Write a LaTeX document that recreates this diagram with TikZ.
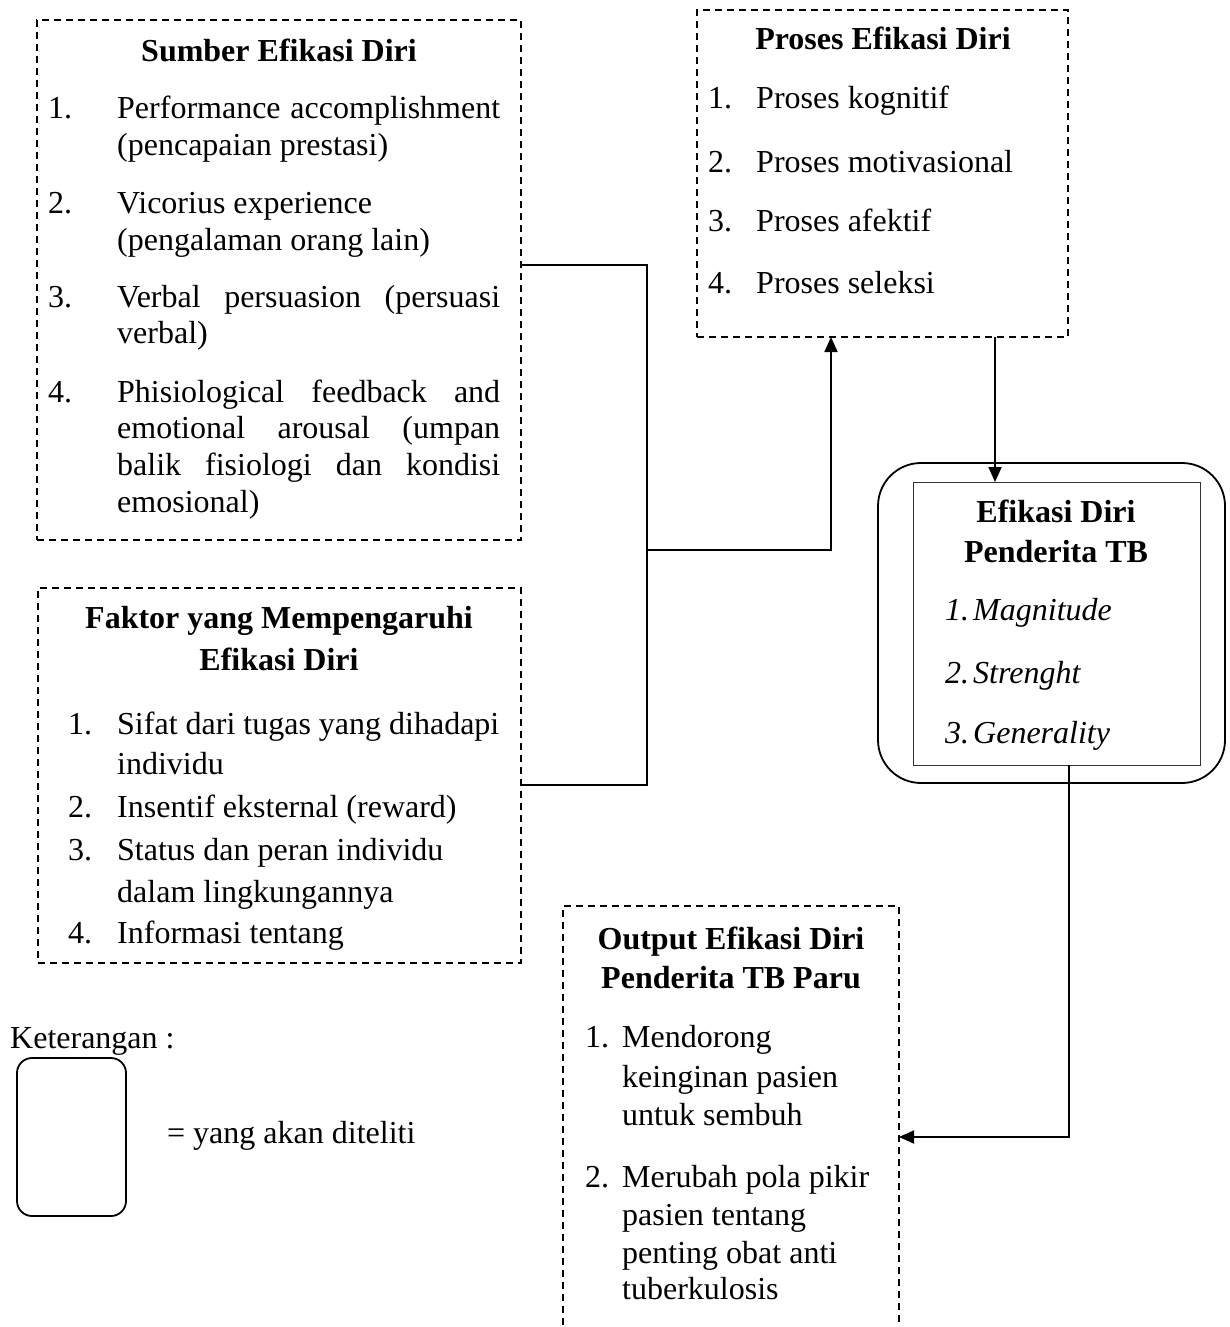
\documentclass[tikz,border=0pt]{standalone}
\usepackage{fontspec}
\setmainfont{Liberation Serif}
\usetikzlibrary{arrows.meta}
\begin{document}
\begin{tikzpicture}[x=1pt,y=-1pt,
  dbox/.style={draw, dash pattern=on 7pt off 5pt, line width=1.4pt, inner sep=0pt, outer sep=0pt, anchor=north west},
  rbox/.style={draw, line width=1.8pt, inner sep=0pt, outer sep=0pt, anchor=north west},
  ibox/.style={draw, line width=1pt, inner sep=0pt, outer sep=0pt, anchor=north west, draw=black!80},
  conn/.style={line width=1.8pt},
  tip/.style={-{Triangle[length=15pt,width=13pt]}},
  txt/.style={inner sep=0pt, anchor=base west, font=\fontsize{32}{36}\selectfont},
  ttl/.style={inner sep=0pt, anchor=base, font=\fontsize{32}{36}\selectfont\bfseries},
  itx/.style={inner sep=0pt, anchor=base west, font=\fontsize{32}{36}\selectfont\itshape}]
\useasboundingbox (0,0) rectangle (1230,1327);

% boxes
\node[dbox, minimum width=484pt, minimum height=520pt] (sumber) at (37,20) {};
\node[dbox, minimum width=483pt, minimum height=375pt] (faktor) at (38,588) {};
\node[dbox, minimum width=371pt, minimum height=327pt] (proses) at (697,10) {};
\node[rbox, rounded corners=43pt, minimum width=347pt, minimum height=320pt] (outer) at (878,463) {};
\node[ibox, minimum width=287pt, minimum height=283pt] (inner) at (913,482) {};
\begin{scope}
\clip (0,0) rectangle (1230,1327);
\node[dbox, minimum width=336pt, minimum height=440pt] (output) at (563,906) {};
\end{scope}
\node[rbox, rounded corners=15pt, minimum width=109pt, minimum height=158pt] (legend) at (17,1058) {};

% Sumber text
\node[ttl] (s0) at (279,62) {Sumber Efikasi Diri};
\node[txt] (s1n) at (48,118) {1.};
\node[txt] (s1a) at (117,118) {\makebox[383pt][s]{Performance accomplishment}};
\node[txt] (s1b) at (117,155) {(pencapaian prestasi)};
\node[txt] (s2n) at (48,213) {2.};
\node[txt] (s2a) at (117,213) {Vicorius experience};
\node[txt] (s2b) at (117,250) {(pengalaman orang lain)};
\node[txt] (s3n) at (48,307) {3.};
\node[txt] (s3a) at (117,307) {\makebox[383pt][s]{Verbal persuasion (persuasi}};
\node[txt] (s3b) at (117,343) {verbal)};
\node[txt] (s4n) at (48,402) {4.};
\node[txt] (s4a) at (117,402) {\makebox[383pt][s]{Phisiological feedback and}};
\node[txt] (s4b) at (117,438) {\makebox[383pt][s]{emotional arousal (umpan}};
\node[txt] (s4c) at (117,475) {\makebox[383pt][s]{balik fisiologi dan kondisi}};
\node[txt] (s4d) at (117,512) {emosional)};

% Faktor text
\node[ttl] (f0a) at (279,628) {Faktor yang Mempengaruhi};
\node[ttl] (f0b) at (279,670) {Efikasi Diri};
\node[txt] (f1n) at (68,734) {1.};
\node[txt] (f1a) at (117,734) {Sifat dari tugas yang dihadapi};
\node[txt] (f1b) at (117,774) {individu};
\node[txt] (f2n) at (68,817) {2.};
\node[txt] (f2a) at (117,817) {Insentif eksternal (reward)};
\node[txt] (f3n) at (68,860) {3.};
\node[txt] (f3a) at (117,860) {Status dan peran individu};
\node[txt] (f3b) at (117,902) {dalam lingkungannya};
\node[txt] (f4n) at (68,943) {4.};
\node[txt] (f4a) at (117,943) {Informasi tentang};

% Proses text
\node[ttl] (p0) at (883,50) {Proses Efikasi Diri};
\node[txt] (p1n) at (708,109) {1.};
\node[txt] (p1a) at (756,109) {Proses kognitif};
\node[txt] (p2n) at (708,172) {2.};
\node[txt] (p2a) at (756,172) {Proses motivasional};
\node[txt] (p3n) at (708,231) {3.};
\node[txt] (p3a) at (756,231) {Proses afektif};
\node[txt] (p4n) at (708,293) {4.};
\node[txt] (p4a) at (756,293) {Proses seleksi};

% Efikasi text
\node[ttl] (e0a) at (1056,522) {Efikasi Diri};
\node[ttl] (e0b) at (1056,562) {Penderita TB};
\node[itx] (e1n) at (945,620) {1.};
\node[itx] (e1a) at (973,620) {Magnitude};
\node[itx] (e2n) at (945,683) {2.};
\node[itx] (e2a) at (973,683) {Strenght};
\node[itx] (e3n) at (945,743) {3.};
\node[itx] (e3a) at (973,743) {Generality};

% Output text
\node[ttl] (o0a) at (731,949) {Output Efikasi Diri};
\node[ttl] (o0b) at (731,988) {Penderita TB Paru};
\node[txt] (o1n) at (585,1047) {1.};
\node[txt] (o1a) at (622,1047) {Mendorong};
\node[txt] (o1b) at (622,1087) {keinginan pasien};
\node[txt] (o1c) at (622,1125) {untuk sembuh};
\node[txt] (o2n) at (585,1187) {2.};
\node[txt] (o2a) at (622,1187) {Merubah pola pikir};
\node[txt] (o2b) at (622,1225) {pasien tentang};
\node[txt] (o2c) at (622,1263) {penting obat anti};
\node[txt] (o2d) at (622,1299) {tuberkulosis};

% legend text
\node[txt] (ket) at (10,1048) {Keterangan :};
\node[txt] (leg) at (167,1143) {= yang akan diteliti};

% connectors
\coordinate (j1) at (647,265);
\coordinate (j2) at (647,785);
\coordinate (jm) at (647,550);
\coordinate (pa) at (831,550);
\coordinate (px) at (995,400);
\coordinate (oc) at (1069,1137);
\draw[conn] (sumber.east |- j1) -- (j1) -- (j2) -- (faktor.east |- j2);
\draw[conn,tip] (jm) -- (pa) -- (pa |- proses.south);
\draw[conn,tip] (px |- proses.south) -- (px |- inner.north);
\draw[conn,tip] (oc |- inner.south) -- (oc) -- (output.east |- oc);
\end{tikzpicture}
\end{document}
